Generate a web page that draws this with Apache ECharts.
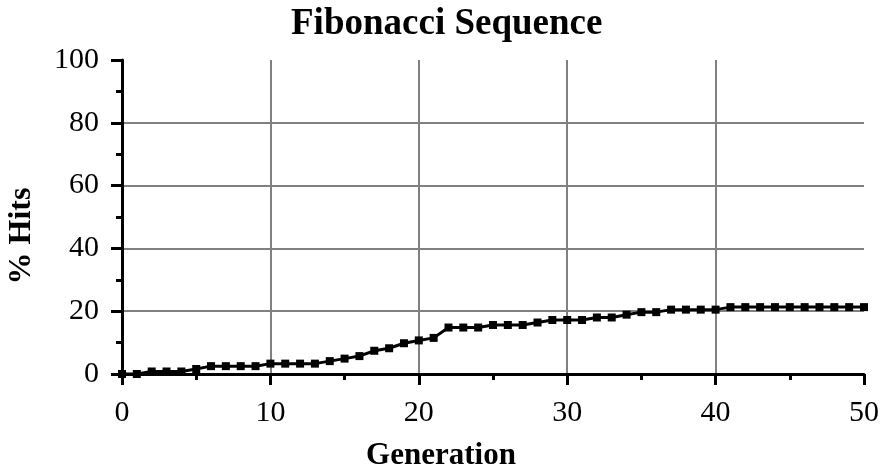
<!DOCTYPE html>
<html>
<head>
<meta charset="utf-8">
<script src="https://cdn.jsdelivr.net/npm/echarts@6/dist/echarts.min.js"></script>
<style>
html,body{margin:0;padding:0;background:#fff;}
#chart{width:880px;height:469px;}
</style>
</head>
<body>
<div id="chart"></div>
<script>
var titleText = 'Fibonacci Sequence';
var xAxisName = 'Generation';
var yAxisName = '% Hits';
var generations = [0,1,2,3,4,5,6,7,8,9,10,11,12,13,14,15,16,17,18,19,20,21,22,23,24,25,26,27,28,29,30,31,32,33,34,35,36,37,38,39,40,41,42,43,44,45,46,47,48,49,50];
var hits = [0,0,0.8,0.8,0.8,1.6,2.5,2.5,2.5,2.5,3.3,3.3,3.3,3.3,4.1,4.9,5.7,7.4,8.2,9.8,10.7,11.5,14.8,14.8,14.8,15.6,15.6,15.6,16.4,17.2,17.2,17.2,18.0,18.0,18.9,19.7,19.7,20.5,20.5,20.5,20.5,21.3,21.3,21.3,21.3,21.3,21.3,21.3,21.3,21.3,21.3];

var points = generations.map(function(g, i){ return [g, hits[i]]; });
var font = 'Liberation Serif';
var chart = echarts.init(document.getElementById('chart'), null, {renderer:'canvas'});
chart.setOption({
  animation: false,
  backgroundColor: '#fff',
  title: {
    text: titleText,
    left: 291,
    top: 6,
    padding: 0,
    textStyle: {fontFamily: font, fontSize: 37, fontWeight: 'bold', color: '#000'}
  },
  grid: {left: 122, right: 16, top: 60, bottom: 95, containLabel: false, outerBoundsMode: 'none'},
  xAxis: {
    type: 'value',
    min: 0, max: 50, interval: 10,
    name: xAxisName,
    nameLocation: 'middle',
    nameGap: 66,
    nameTextStyle: {fontFamily: font, fontSize: 31, fontWeight: 'bold', color: '#000', padding: [0, 104, 0, 0]},
    axisLine: {show: true, onZero: false, lineStyle: {color: '#000', width: 3}},
    axisTick: {show: true, inside: false, length: 11, lineStyle: {color: '#000', width: 3}},
    minorTick: {show: true, splitNumber: 2, length: 6, lineStyle: {color: '#000', width: 3}},
    axisLabel: {margin: 24, fontFamily: font, fontSize: 30, color: '#000'},
    splitLine: {show: true, showMinLine: false, showMaxLine: false, lineStyle: {color: '#808080', width: 2}}
  },
  yAxis: {
    type: 'value',
    min: 0, max: 100, interval: 20,
    name: yAxisName,
    nameLocation: 'middle',
    nameGap: 84,
    nameRotate: 90,
    nameTextStyle: {fontFamily: font, fontSize: 32, fontWeight: 'bold', color: '#000', padding: [0, 38, 0, 0]},
    axisLine: {show: true, onZero: false, lineStyle: {color: '#000', width: 3}},
    axisTick: {show: true, inside: false, length: 11, lineStyle: {color: '#000', width: 3}},
    minorTick: {show: true, splitNumber: 2, length: 6, lineStyle: {color: '#000', width: 3}},
    axisLabel: {margin: 23, fontFamily: font, fontSize: 30, color: '#000'},
    splitLine: {show: true, showMinLine: false, showMaxLine: false, lineStyle: {color: '#808080', width: 2}}
  },
  series: [{
    type: 'line',
    data: points,
    symbol: 'rect',
    symbolSize: 8,
    showAllSymbol: true,
    lineStyle: {color: '#000', width: 3},
    itemStyle: {color: '#000', borderWidth: 0},
    clip: false,
    z: 5
  }]
});
</script>
</body>
</html>
